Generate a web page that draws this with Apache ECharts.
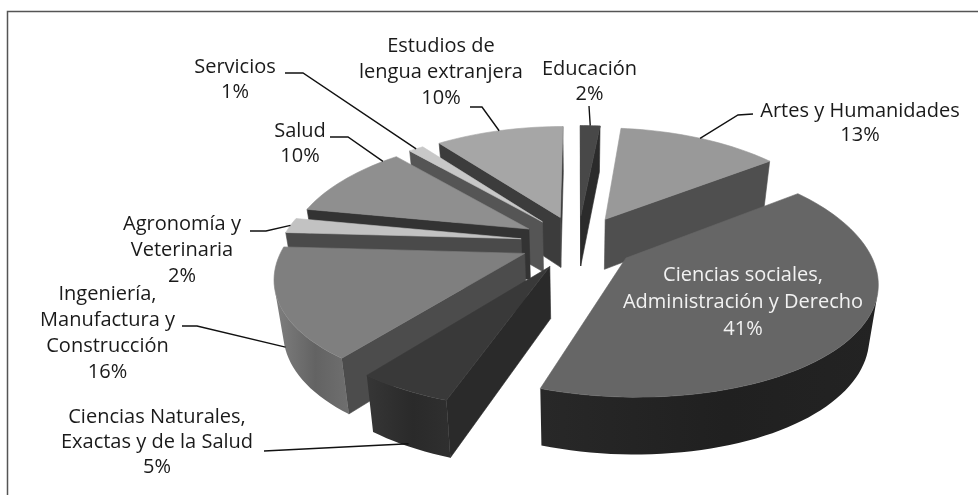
<!DOCTYPE html>
<html><head><meta charset="utf-8">
<style>html,body{margin:0;padding:0;background:#fff}#c{width:978px;height:495px}</style>
<script src="https://cdn.jsdelivr.net/npm/echarts@6/dist/echarts.min.js"></script>
</head><body><div id="c"></div>
<script>
// ---- data ----
const categories = ['Educación','Artes y Humanidades','Ciencias sociales,\nAdministración y Derecho','Ciencias Naturales,\nExactas y de la Salud','Ingeniería,\nManufactura y\nConstrucción','Agronomía y\nVeterinaria','Salud','Servicios','Estudios de\nlengua extranjera'];
const values = [1.6, 13.1, 40.5, 5.2, 15.5, 2.1, 10.4, 1.2, 10.4];
// ---- styles ----
const topColors  = ['#484848','#999999','#666666','#393939','#7f7f7f','#c2c2c2','#8f8f8f','#c8c8c8','#a6a6a6'];
const radColors  = ['#2b2b2b','#4f4f4f','#333333','#2a2a2a','#4c4c4c','#4a4a4a','#333333','#555555','#3c3c3c'];
const rimColors  = ['#3a3a3a','#555555','#242424','#303030','#717171','#555555','#555555','#666666','#555555'];
const labelColor = ['#1a1a1a','#1a1a1a','#f2f2f2','#1a1a1a','#1a1a1a','#1a1a1a','#1a1a1a','#1a1a1a','#1a1a1a'];
// label anchor (centre x, first line y) and leader elbows
const labelPos = [[589.5,69],[860,111],[743,275],[157,417],[107.5,294],[182,224],[300,131],[235,67],[441,46]];
const lineH = [25,24,27,25,26,26,25,25,26];
const leaders = [
  [[589,106]],
  [[753,114],[738,115]],
  null,
  [[264,451]],
  [[182,326],[197,326]],
  [[250,231],[266,231]],
  [[330,137],[348,137]],
  [[285,73],[303,73]],
  [[470,107],[482,107]]
];
const leaderWall = [0,0,0,0.95,0.9,0,0,0,0]; // how far down the wall a leader lands
const leaderFrac = [0.5,0.5,0.5,0.5,0.55,0.5,0.88,0.5,0.5]; // where along the arc
const FONT = '"Open Sans"', FS = 20;
// ---- projection ----
const CX=578, CY=242, R=240, RK=112, P=0.155, PX=0.18, EXPLODE=0.24, HGT=51;
const total = values.reduce((a,b)=>a+b,0);
let acc=0;
const slices = values.map((v,i)=>{const a0=acc/total*2*Math.PI; acc+=v; const a1=acc/total*2*Math.PI; return {i,a0,a1,mid:(a0+a1)/2};});
function proj(X,Z,down){
  const w=1+P*Z, wx=1+PX*Z;
  let sx=R*X/wx, sy=-RK*Z/w;
  if(down){ sx*=0.97; sy+=HGT/Math.pow(w,0.6); }
  return [CX+sx,CY+sy];
}
function pt(s,a,r,down){
  const ox=EXPLODE*Math.sin(s.mid), oz=EXPLODE*Math.cos(s.mid);
  return proj(ox+r*Math.sin(a), oz+r*Math.cos(a), down);
}
function area(p){let t=0;for(let i=0;i<p.length;i++){const q=p[(i+1)%p.length];t+=p[i][0]*q[1]-q[0]*p[i][1];}return t/2;}
function shade(hex,f){const n=parseInt(hex.slice(1),16);const c=[n>>16,(n>>8)&255,n&255].map(v=>Math.max(0,Math.min(255,Math.round(v*f))));return 'rgb('+c.join(',')+')';}
const order = slices.slice().sort((a,b)=>Math.cos(b.mid)-Math.cos(a.mid)).map(s=>s.i);

function renderItem(params,api){
  const s=slices[api.value(0)], ch=[];
  const poly=(points,fill)=>ch.push({type:'polygon',shape:{points},style:{fill,stroke:typeof fill==='string'?fill:null,lineWidth:0.6}});
  const N=Math.max(6,Math.ceil((s.a1-s.a0)/(Math.PI/90)));
  const top=[pt(s,0,0,false)];
  for(let k=0;k<=N;k++) top.push(pt(s,s.a0+(s.a1-s.a0)*k/N,1,false));
  // radial walls (only the ones facing the viewer)
  const A=pt(s,0,0,false),Ad=pt(s,0,0,true);
  const S=pt(s,s.a0,1,false),Sd=pt(s,s.a0,1,true),E=pt(s,s.a1,1,false),Ed=pt(s,s.a1,1,true);
  const q1=[A,S,Sd,Ad], q2=[E,A,Ad,Ed];
  if(area(q1)<0) poly(q1,radColors[s.i]);
  if(area(q2)<0) poly(q2,radColors[s.i]);
  // outer rim: the visible run of the arc as one shape with a soft sweep of light
  const upper=[], lower=[];
  for(let k=0;k<N;k++){
    const a=s.a0+(s.a1-s.a0)*k/N,b=s.a0+(s.a1-s.a0)*(k+1)/N;
    const q=[pt(s,a,1,false),pt(s,b,1,false),pt(s,b,1,true),pt(s,a,1,true)];
    if(area(q)<0){
      if(!upper.length){upper.push(q[0]);lower.push(q[3]);}
      upper.push(q[1]);lower.push(q[2]);
    }
  }
  if(upper.length){
    const c=rimColors[s.i];
    poly(upper.concat(lower.reverse()),new echarts.graphic.LinearGradient(0,0,1,0,[
      {offset:0,color:shade(c,1.12)},{offset:0.55,color:shade(c,0.88)},{offset:1,color:shade(c,0.98)}]));
  }
  poly(top,topColors[s.i]);
  return {type:'group',children:ch};
}
// leaders and labels sit above every slice
function renderLabel(params,api){
  const i=api.value(0), s=slices[i], ch=[];
  if(leaders[i]){
    const t=leaderWall[i], ang=s.a0+(s.a1-s.a0)*leaderFrac[i], a=pt(s,ang,1,false), b=pt(s,ang,1,true);
    const end=[a[0]+(b[0]-a[0])*t,a[1]+(b[1]-a[1])*t];
    ch.push({type:'polyline',shape:{points:leaders[i].concat([end])},style:{stroke:'#111',lineWidth:1.4,fill:null}});
  }
  const lines=categories[i].split('\n').concat([Math.round(values[i])+'%']);
  lines.forEach((t,k)=>ch.push({type:'text',style:{text:t,x:labelPos[i][0],y:labelPos[i][1]+k*lineH[i],
    align:'center',verticalAlign:'middle',fill:labelColor[i],font:FS+'px '+FONT}}));
  return {type:'group',children:ch};
}
const chart=echarts.init(document.getElementById('c'),null,{renderer:'canvas'});
chart.setOption({
  animation:false,
  backgroundColor:'#ffffff',
  graphic:[{type:'polyline',shape:{points:[[7.5,495],[7.5,11.5],[978,11.5]]},style:{fill:null,stroke:'#555',lineWidth:1.5},silent:true}],
  xAxis:{show:false},yAxis:{show:false},
  series:[
    {type:'custom',coordinateSystem:'none',data:order.map(i=>[i]),renderItem,silent:true,z:2},
    {type:'custom',coordinateSystem:'none',data:values.map((v,i)=>[i]),renderItem:renderLabel,silent:true,z:3}
  ]
});
</script></body></html>
